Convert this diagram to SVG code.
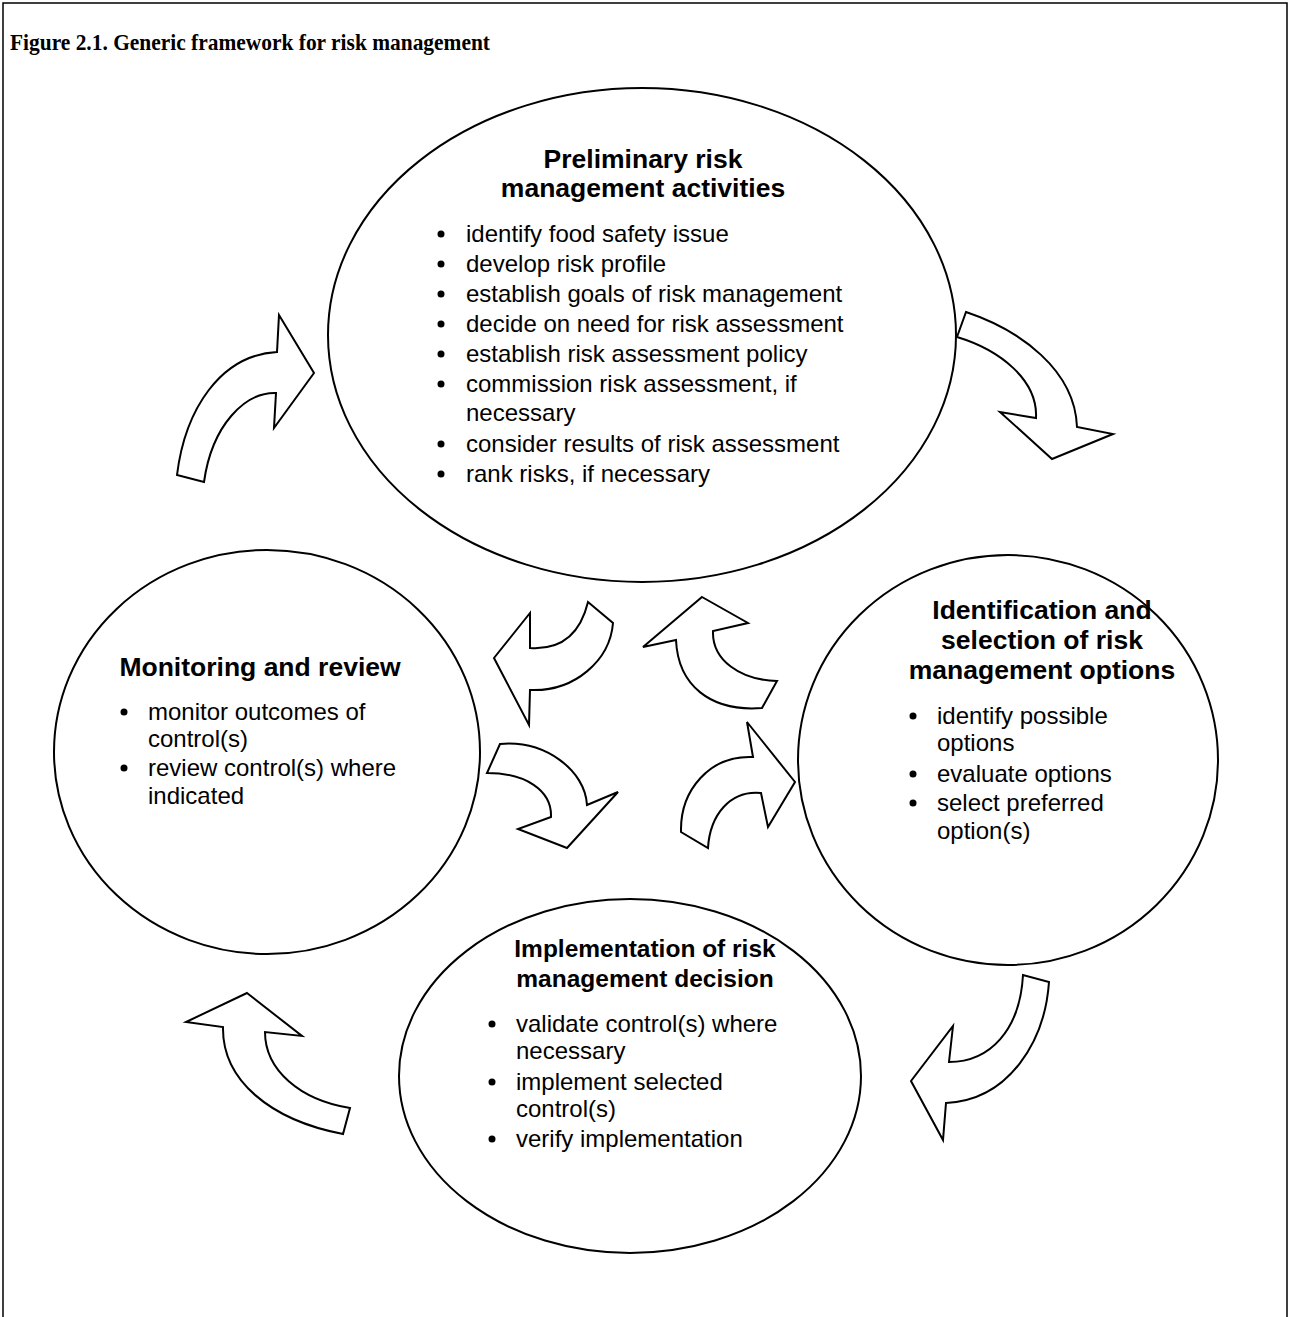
<svg xmlns="http://www.w3.org/2000/svg" width="1290" height="1317" viewBox="0 0 1290 1317">
<style>
.frame{fill:none;stroke:#000;stroke-width:1.5}
.node{fill:#fff;stroke:#000;stroke-width:2}
.arrow{fill:#fff;stroke:#000;stroke-width:2;stroke-linejoin:miter}
.title{font-family:"Liberation Serif","Times New Roman",serif;font-weight:bold;font-size:24px;fill:#000}
.head{font-family:"Liberation Sans",Arial,sans-serif;font-weight:bold;font-size:26.5px;fill:#000;text-anchor:middle}
.head2{font-family:"Liberation Sans",Arial,sans-serif;font-weight:bold;font-size:24.5px;fill:#000;text-anchor:middle}
.item{font-family:"Liberation Sans",Arial,sans-serif;font-size:24px;fill:#000}
.dot{fill:#000}
</style>
<rect width="1290" height="1317" fill="#fff"/>
<path class="frame" d="M3,1317 V3 H1287 V1317"/>
<text class="title" x="10" y="50" textLength="480" lengthAdjust="spacingAndGlyphs">Figure 2.1. Generic framework for risk management</text>

<g id="connectors">
<path class="arrow" d="M177,475 C185,410 220,355 277,352 L279,315 L314,373 L274,428 L276,393 C245,392 212,425 204,482 Z"/>
<path class="arrow" d="M966,312 C1020,330 1075,370 1077,427 L1113,434 L1052,459 L1000,412 L1036,418 C1038,380 1000,350 957,337 Z"/>
<path class="arrow" d="M588,602 C580,635 560,650 530,648 L530,613 L494,658 L529,725 L530,690 C575,692 610,660 613,623 Z"/>
<path class="arrow" d="M702,597 L748,623 L713,631 C712,660 740,680 777,681 L762,708 C710,712 678,685 676,640 L643,647 Z"/>
<path class="arrow" d="M500,744 C545,740 585,770 587,805 L618,792 L567,848 L518,829 L551,817 C552,790 525,773 487,773 Z"/>
<path class="arrow" d="M681,832 C680,790 710,755 753,757 L747,722 L795,782 L768,827 L761,793 C730,790 710,815 708,848 Z"/>
<path class="arrow" d="M1023,975 C1020,1030 990,1062 949,1062 L953,1026 L911,1081 L943,1140 L946,1103 C1010,1100 1045,1040 1049,982 Z"/>
<path class="arrow" d="M247,993 L302,1036 L265,1032 C265,1070 300,1100 350,1108 L343,1134 C270,1120 222,1080 223,1027 L186,1022 Z"/>
</g>

<g id="node-preliminary">
<ellipse class="node" cx="642" cy="335" rx="314" ry="247"/>
<text class="head" x="643" y="168">Preliminary risk</text>
<text class="head" x="643" y="197">management activities</text>
<circle class="dot" cx="441" cy="234" r="3.5"/><text class="item" x="466" y="242">identify food safety issue</text>
<circle class="dot" cx="441" cy="264" r="3.5"/><text class="item" x="466" y="272">develop risk profile</text>
<circle class="dot" cx="441" cy="294" r="3.5"/><text class="item" x="466" y="302">establish goals of risk management</text>
<circle class="dot" cx="441" cy="324" r="3.5"/><text class="item" x="466" y="332">decide on need for risk assessment</text>
<circle class="dot" cx="441" cy="354" r="3.5"/><text class="item" x="466" y="362">establish risk assessment policy</text>
<circle class="dot" cx="441" cy="384" r="3.5"/><text class="item" x="466" y="392">commission risk assessment, if</text>
<text class="item" x="466" y="421">necessary</text>
<circle class="dot" cx="441" cy="444" r="3.5"/><text class="item" x="466" y="452">consider results of risk assessment</text>
<circle class="dot" cx="441" cy="474" r="3.5"/><text class="item" x="466" y="482">rank risks, if necessary</text>
</g>

<g id="node-monitoring">
<ellipse class="node" cx="267" cy="752" rx="213" ry="202"/>
<text class="head" x="260" y="676">Monitoring and review</text>
<circle class="dot" cx="124" cy="712" r="3.5"/><text class="item" x="148" y="720">monitor outcomes of</text>
<text class="item" x="148" y="747">control(s)</text>
<circle class="dot" cx="124" cy="768" r="3.5"/><text class="item" x="148" y="776">review control(s) where</text>
<text class="item" x="148" y="804">indicated</text>
</g>

<g id="node-identification">
<ellipse class="node" cx="1008" cy="760" rx="210" ry="205"/>
<text class="head" x="1042" y="619">Identification and</text>
<text class="head" x="1042" y="649">selection of risk</text>
<text class="head" x="1042" y="679">management options</text>
<circle class="dot" cx="913" cy="716" r="3.5"/><text class="item" x="937" y="724">identify possible</text>
<text class="item" x="937" y="751">options</text>
<circle class="dot" cx="913" cy="774" r="3.5"/><text class="item" x="937" y="782">evaluate options</text>
<circle class="dot" cx="913" cy="803" r="3.5"/><text class="item" x="937" y="811">select preferred</text>
<text class="item" x="937" y="839">option(s)</text>
</g>

<g id="node-implementation">
<ellipse class="node" cx="630" cy="1076" rx="231" ry="177"/>
<text class="head2" x="645" y="957">Implementation of risk</text>
<text class="head2" x="645" y="987">management decision</text>
<circle class="dot" cx="492" cy="1024" r="3.5"/><text class="item" x="516" y="1032">validate control(s) where</text>
<text class="item" x="516" y="1059">necessary</text>
<circle class="dot" cx="492" cy="1082" r="3.5"/><text class="item" x="516" y="1090">implement selected</text>
<text class="item" x="516" y="1117">control(s)</text>
<circle class="dot" cx="492" cy="1139" r="3.5"/><text class="item" x="516" y="1147">verify implementation</text>
</g>
</svg>
